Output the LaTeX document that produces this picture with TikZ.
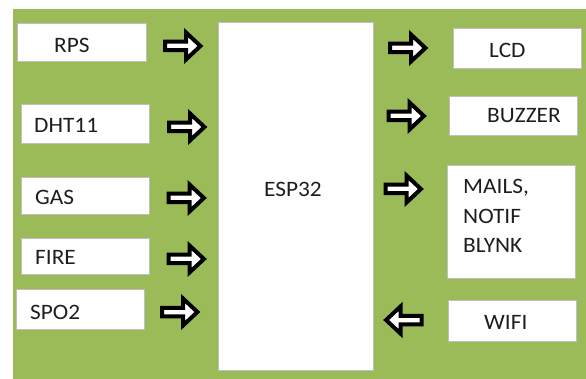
\documentclass[tikz,border=0pt]{standalone}
\usepackage{fontspec}
\setmainfont{Carlito}[FakeStretch=1.06]
\definecolor{bggreen}{HTML}{9BBB59}
\definecolor{boxline}{HTML}{BFBFBF}
\definecolor{txt}{HTML}{1E1E1E}
\begin{document}
\begin{tikzpicture}[x=1pt,y=-1pt,
  box/.style={draw=boxline, line width=0.9pt, fill=white, inner sep=0pt, anchor=north west},
  lbl/.style={anchor=base west, inner sep=0pt, text=txt, font=\fontsize{22}{29.5}\selectfont},
  arrowstyle/.style={draw=black, line width=4pt, fill=white, line join=miter, miter limit=10},
  rarr/.pic={\draw[arrowstyle] (-18,-4.25) -- (3,-4.25) -- (3,-13.5) -- (17.4,0) -- (3,13.5) -- (3,4.25) -- (-18,4.25) -- cycle;},
  larr/.pic={\draw[arrowstyle] (18,-4.25) -- (-3,-4.25) -- (-3,-13.5) -- (-17.4,0) -- (-3,13.5) -- (-3,4.25) -- (18,4.25) -- cycle;}]
\useasboundingbox (0,0) rectangle (586,379);
\fill[bggreen] (13,9) rectangle (586,379);
% boxes
\node[box, minimum width=129pt, minimum height=38pt] (rps) at (17,23) {};
\node[box, minimum width=128pt, minimum height=39pt] (dht) at (21,104) {};
\node[box, minimum width=128pt, minimum height=37pt] (gas) at (21,177) {};
\node[box, minimum width=128pt, minimum height=36pt] (fire) at (21,238) {};
\node[box, minimum width=128pt, minimum height=40pt] (spo) at (16,289) {};
\node[box, minimum width=155pt, minimum height=348pt] (esp) at (218,22) {};
\node[box, minimum width=128pt, minimum height=40pt] (lcd) at (453,28) {};
\node[box, minimum width=128pt, minimum height=39pt] (buz) at (449,96) {};
\node[box, minimum width=128pt, minimum height=113pt] (mail) at (447,165) {};
\node[box, minimum width=128pt, minimum height=41pt] (wifi) at (448,300) {};
% labels
\node[lbl] (trps) at (54,53) {RPS};
\node[lbl] (tdht) at (34,133) {DHT11};
\node[lbl] (tgas) at (35,205) {GAS};
\node[lbl] (tfire) at (35,265) {FIRE};
\node[lbl] (tspo) at (30,319) {SPO2};
\node[lbl] (tesp) at (264,197) {ESP32};
\node[lbl] (tlcd) at (489,58) {LCD};
\node[lbl] (tbuz) at (487,123) {BUZZER};
\node[lbl] (tm1) at (463,194) {MAILS,};
\node[lbl] (tm2) at (463,223.5) {NOTIF};
\node[lbl] (tm3) at (463,253) {BLYNK};
\node[lbl] (twifi) at (484,329) {WIFI};
% block arrows
\pic (arps) at (183,46) {rarr};
\pic (adht) at (187,127) {rarr};
\pic (agas) at (186.5,198) {rarr};
\pic (afire) at (186.5,259) {rarr};
\pic (aspo) at (180,312) {rarr};
\pic (alcd) at (408,48) {rarr};
\pic (abuz) at (406.5,116) {rarr};
\pic (amail) at (403.5,189) {rarr};
\pic (awifi) at (403.5,320) {larr};
\end{tikzpicture}
\end{document}
